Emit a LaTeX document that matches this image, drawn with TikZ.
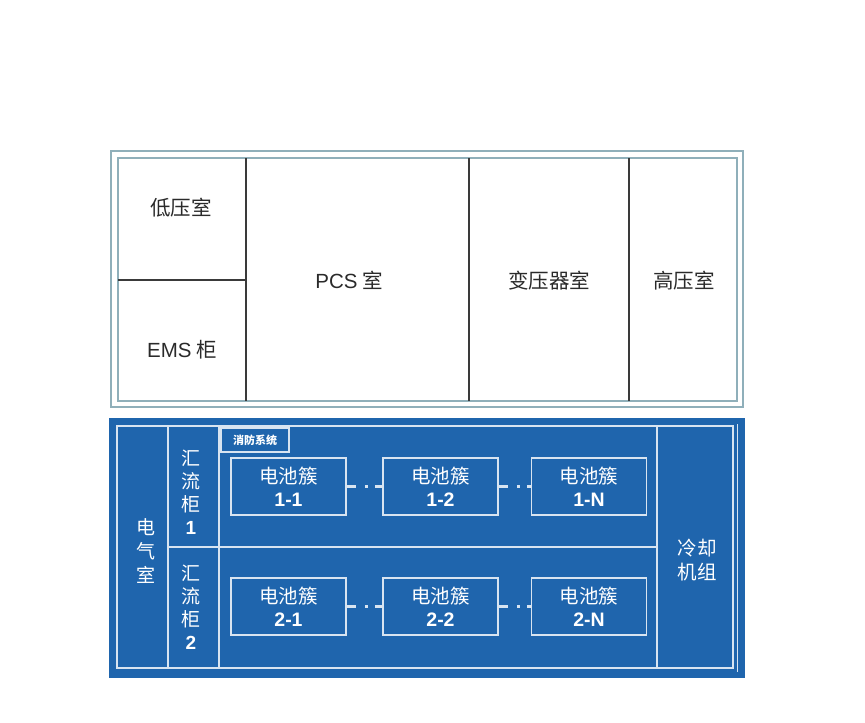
\documentclass[tikz,border=0pt]{standalone}
\usepackage{fontspec}
\setmainfont{Noto Sans CJK SC}
\newfontfamily\numfont{Liberation Sans}
\usetikzlibrary{positioning}
\definecolor{framegray}{HTML}{8FAFBA}
\definecolor{wallgray}{HTML}{3A3A3A}
\definecolor{textgray}{HTML}{2A2A2A}
\definecolor{boxblue}{HTML}{1F65AD}
\definecolor{lineblue}{HTML}{D8E4F1}
\newcommand{\num}[1]{{\numfont\bfseries #1}}

\begin{document}
\begin{tikzpicture}[x=1pt, y=-1pt,
    room/.style={text=textgray, font=\fontsize{20.5}{22}\selectfont, inner sep=0pt},
    wall/.style={draw=wallgray, line width=1.6pt},
    cell/.style={text=white, align=center, inner sep=0pt},
    cluster/.style={draw=lineblue, line width=1.5pt, minimum width=115pt, minimum height=57pt,
        align=center, text=white, inner sep=0pt, font=\fontsize{19.5}{23}\selectfont},
    link/.style={draw=lineblue, line width=2.8pt, dash pattern=on 9pt off 9pt on 3pt off 7pt on 20pt}]
    \useasboundingbox (0,0) rectangle (865,723);

    % Upper cabin
    \draw[draw=framegray, line width=1.5pt] (111,151) rectangle (743,407);
    \draw[draw=framegray, line width=1.5pt] (118,158) rectangle (737,401);
    \draw[wall] (246,158) -- (246,401);
    \draw[wall] (469,158) -- (469,401);
    \draw[wall] (629,158) -- (629,401);
    \draw[wall] (118,280) -- (246,280);

    \node[room] (lv room) at (181,208) {低压室};
    \node[room] (ems) at (182,350) {{\numfont EMS} 柜};
    \node[room] (pcs room) at (349,280) {{\numfont PCS} 室};
    \node[room] (trafo room) at (549,281) {变压器室};
    \node[room] (hv room) at (684,281) {高压室};

    % Lower cabin
    \fill[boxblue] (109,418) rectangle (745,678);
    \draw[draw=lineblue, line width=1.5pt] (117,426) rectangle (733,668);
    \draw[draw=lineblue, line width=0.8pt] (737,424) -- (737,672);
    \draw[draw=lineblue, line width=1.5pt] (168,426) -- (168,668);
    \draw[draw=lineblue, line width=1.5pt] (219,426) -- (219,668);
    \draw[draw=lineblue, line width=1.5pt] (657,426) -- (657,668);
    \draw[draw=lineblue, line width=1.5pt] (168,547) -- (657,547);

    \node[draw=lineblue, line width=1.2pt, minimum width=68pt, minimum height=24pt, inner sep=0pt,
        text=white, font=\fontsize{11}{13}\selectfont\bfseries] (fire) at (255,440) {消防系统};

    \node[cell, font=\fontsize{19}{24}\selectfont] (elec room) at (146,551) {电\\气\\室};
    \node[cell, font=\fontsize{19}{23}\selectfont] (combiner 1) at (191,492) {汇\\流\\柜\\\num{1}};
    \node[cell, font=\fontsize{19}{23}\selectfont] (combiner 2) at (191,607) {汇\\流\\柜\\\num{2}};
    \node[cell, font=\fontsize{19.5}{24}\selectfont] (cooling) at (697,560) {冷却\\机组};

    % Battery clusters
    \node[cluster] (cluster 11) at (288.5,486.5) {电池簇\\\num{1-1}};
    \node[cluster] (cluster 12) at (440.5,486.5) {电池簇\\\num{1-2}};
    \node[cluster] (cluster 1n) at (589,486.5) {电池簇\\\num{1-N}};
    \node[cluster] (cluster 21) at (288.5,606.5) {电池簇\\\num{2-1}};
    \node[cluster] (cluster 22) at (440.5,606.5) {电池簇\\\num{2-2}};
    \node[cluster] (cluster 2n) at (589,606.5) {电池簇\\\num{2-N}};

    % Connections
    \draw[link] (cluster 11) -- (cluster 12);
    \draw[link] (cluster 12) -- (cluster 1n);
    \draw[link] (cluster 21) -- (cluster 22);
    \draw[link] (cluster 22) -- (cluster 2n);
\end{tikzpicture}
\end{document}
